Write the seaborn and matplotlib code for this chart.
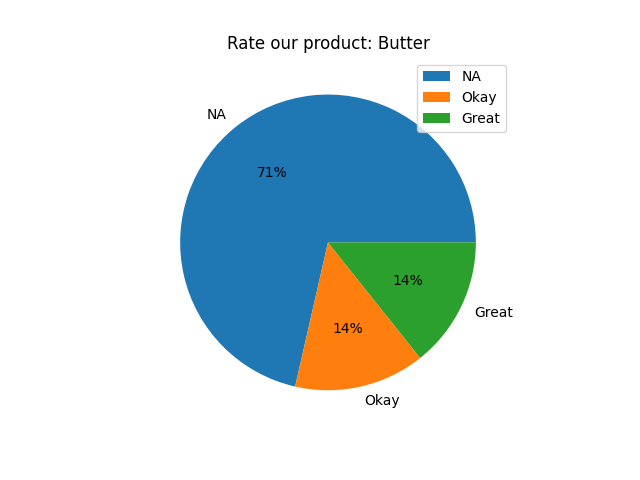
import matplotlib
matplotlib.use("Agg")
import matplotlib.pyplot as plt
import seaborn as sns

labels = ["NA", "Okay", "Great"]
counts = [5, 1, 1]
title = "Rate our product: Butter"

colors = sns.color_palette("tab10", len(labels))

fig, ax = plt.subplots(figsize=(6.4, 4.8), dpi=100)
ax.pie(counts, labels=labels, colors=colors, autopct="%1.0f%%")
ax.set_title(title)
ax.legend(loc="upper right")
fig.savefig("out.png", dpi=100)
plt.close(fig)
